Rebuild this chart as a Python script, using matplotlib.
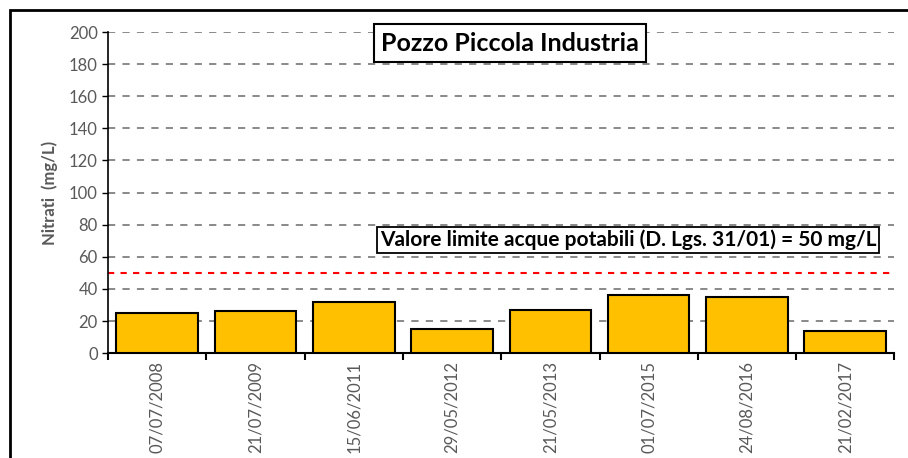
import numpy as np
import matplotlib.pyplot as plt
from matplotlib.patches import Rectangle

dates = ['07/07/2008', '21/07/2009', '15/06/2011', '29/05/2012',
         '21/05/2013', '01/07/2015', '24/08/2016', '21/02/2017']
nitrati = [25, 26.5, 32, 15, 27, 36.5, 35, 13.5]
limite = 50
y_ticks = list(range(0, 201, 20))

plt.rcParams['font.family'] = ['Lato', 'DejaVu Sans']

fig = plt.figure(figsize=(9.08, 4.58), dpi=100)
ax = fig.add_axes([0.119, 0.229, 0.866, 0.701])

x = np.arange(len(dates))
ax.bar(x, nitrati, width=0.83, color='#FFC000', edgecolor='black', linewidth=1.5, zorder=3)
ax.axhline(limite, color='red', linestyle=(0, (3, 3)), linewidth=1.5, zorder=2)

ax.set_xlim(-0.5, len(dates) - 0.5)
ax.set_ylim(0, 200)
ax.set_yticks(y_ticks)
ax.yaxis.grid(True, color='#808080', linestyle=(0, (4, 4)), linewidth=1.3, zorder=0)
ax.tick_params(axis='y', labelsize=12, labelcolor='#595959', length=4, width=1, color='black')

# category boundaries as tick marks, labels centred under bars
ax.set_xticks(np.arange(-0.5, len(dates)), minor=False)
ax.set_xticklabels([])
ax.set_xticks(x, minor=True)
ax.set_xticklabels(dates, minor=True, rotation=90, fontsize=12, color='#595959')
ax.tick_params(axis='x', which='major', length=5, width=1.5, color='black')
ax.tick_params(axis='x', which='minor', length=0, pad=6)

for s in ['top', 'right']:
    ax.spines[s].set_visible(False)
ax.spines['left'].set_linewidth(1.2)
ax.spines['bottom'].set_linewidth(1.5)

ax.set_ylabel('Nitrati  (mg/L)', fontsize=12, fontweight='bold', color='#595959', labelpad=8)

fig.text(0.5617, 0.906, 'Pozzo Piccola Industria', ha='center', va='center', fontsize=18,
         fontweight='bold', bbox=dict(boxstyle='square,pad=0.3', facecolor='white',
                                      edgecolor='black', linewidth=1.5))
fig.text(0.6917, 0.476, 'Valore limite acque potabili (D. Lgs. 31/01) = 50 mg/L', ha='center',
         va='center', fontsize=15, fontweight='bold',
         bbox=dict(boxstyle='square,pad=0.15', facecolor='white', edgecolor='black', linewidth=1.3))

# outer chart border (cut off on right and bottom)
fig.patches.append(Rectangle((10 / 908, -0.1), 1.2, 1.1 - 10 / 458, transform=fig.transFigure,
                             fill=False, edgecolor='black', linewidth=2))

fig.savefig('out.png', dpi=100)
